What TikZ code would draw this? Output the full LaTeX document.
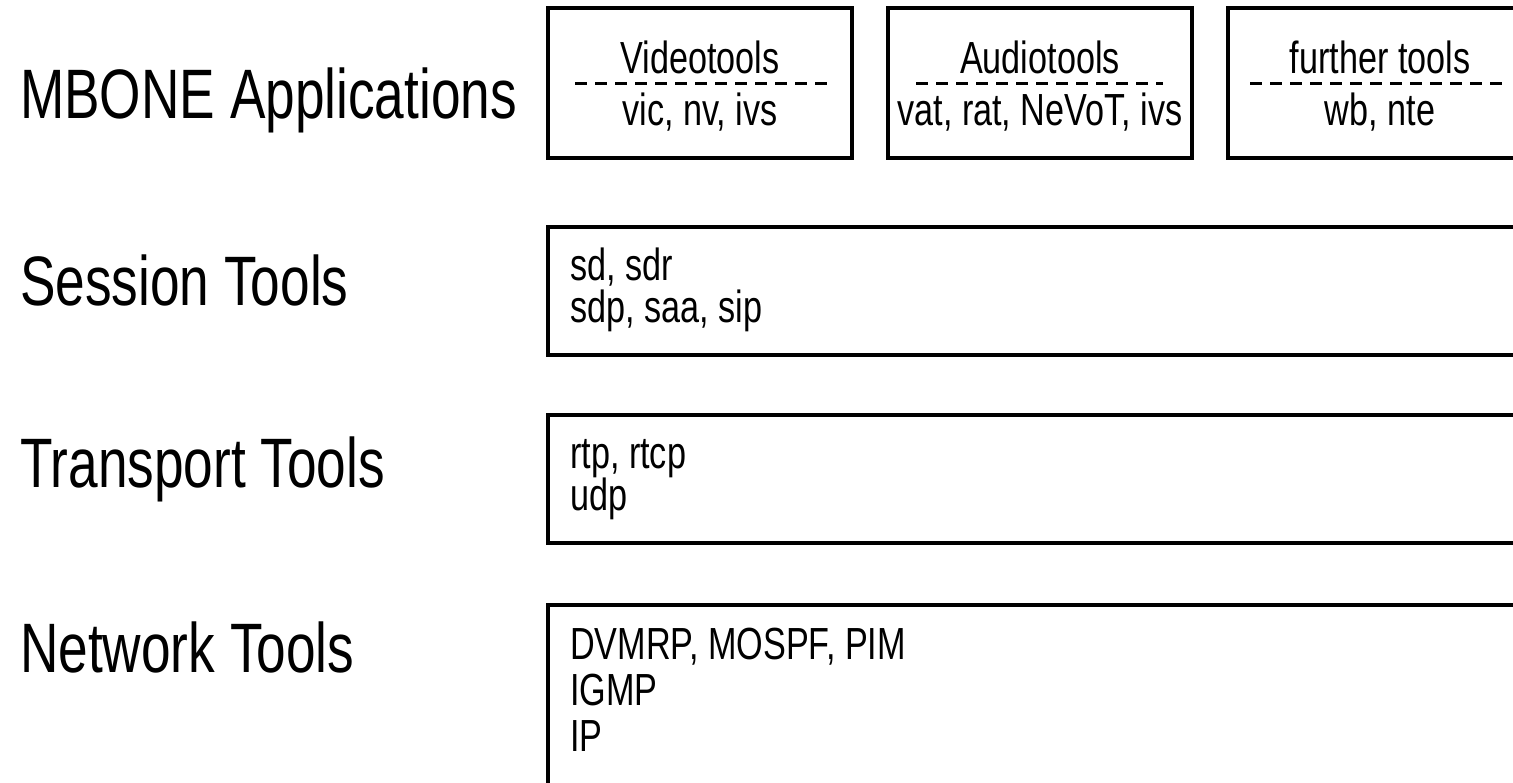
\documentclass[tikz,border=0pt]{standalone}
\usepackage{fontspec}
\setmainfont{Liberation Sans}[FakeStretch=0.76]
\begin{document}
\begin{tikzpicture}[x=1pt,y=-1pt,
  layer/.style={font=\fontsize{70}{80}\selectfont, anchor=base west, inner sep=0pt},
  frame/.style={draw, line width=3.2pt, inner sep=0pt},
  heading/.style={font=\fontsize{45}{50}\selectfont, anchor=base, inner sep=0pt},
  entry/.style={font=\fontsize{45}{50}\selectfont, anchor=base west, inner sep=0pt},
  sep/.style={line width=3pt, dash pattern=on 12pt off 8pt}]
\useasboundingbox (0,0) rectangle (1513,782);
\clip (0,0) rectangle (1513,782);

% layer names
\node[layer] (lapp) at (20,118) {MBONE Applications};
\node[layer] (lses) at (20,305) {Session Tools};
\node[layer] (ltra) at (20,487) {Transport Tools};
\node[layer] (lnet) at (20,672) {Network Tools};

% application boxes
\node[frame, minimum width=304pt, minimum height=150pt] (video) at (700,83) {};
\node[frame, minimum width=304pt, minimum height=150pt] (audio) at (1040,83) {};
\node[frame, minimum width=304pt, minimum height=150pt] (other) at (1380,83) {};

\draw[sep] ([xshift=29pt]video.west) -- ([xshift=-27pt]video.east);
\draw[sep] ([xshift=30pt]audio.west) -- ([xshift=-31pt]audio.east);
\draw[sep] ([xshift=24pt]other.west) -- ([xshift=-27pt]other.east);

\node[heading] (vidh) at (700,73) {Videotools};
\node[heading] (vidl) at (700,125) {vic, nv, ivs};
\node[heading] (audh) at (1040,73) {Audiotools};
\node[heading] (audl) at (1040,125) {vat, rat, NeVoT, ivs};
\node[heading] (othh) at (1380,73) {further tools};
\node[heading] (othl) at (1380,125) {wb, nte};

% lower layers
\node[frame, minimum width=1100pt, minimum height=128pt] (ses) at (1098,291) {};
\node[frame, minimum width=1100pt, minimum height=128pt] (tra) at (1098,479) {};
\node[frame, minimum width=1100pt, minimum height=250pt] (net) at (1098,730) {};

\node[entry] (ses1) at (570,280) {sd, sdr};
\node[entry] (ses2) at (570,322) {sdp, saa, sip};
\node[entry] (tra1) at (570,468) {rtp, rtcp};
\node[entry] (tra2) at (570,510) {udp};
\node[entry] (net1) at (570,659) {DVMRP, MOSPF, PIM};
\node[entry] (net2) at (570,705) {IGMP};
\node[entry] (net3) at (570,751) {IP};
\end{tikzpicture}
\end{document}
